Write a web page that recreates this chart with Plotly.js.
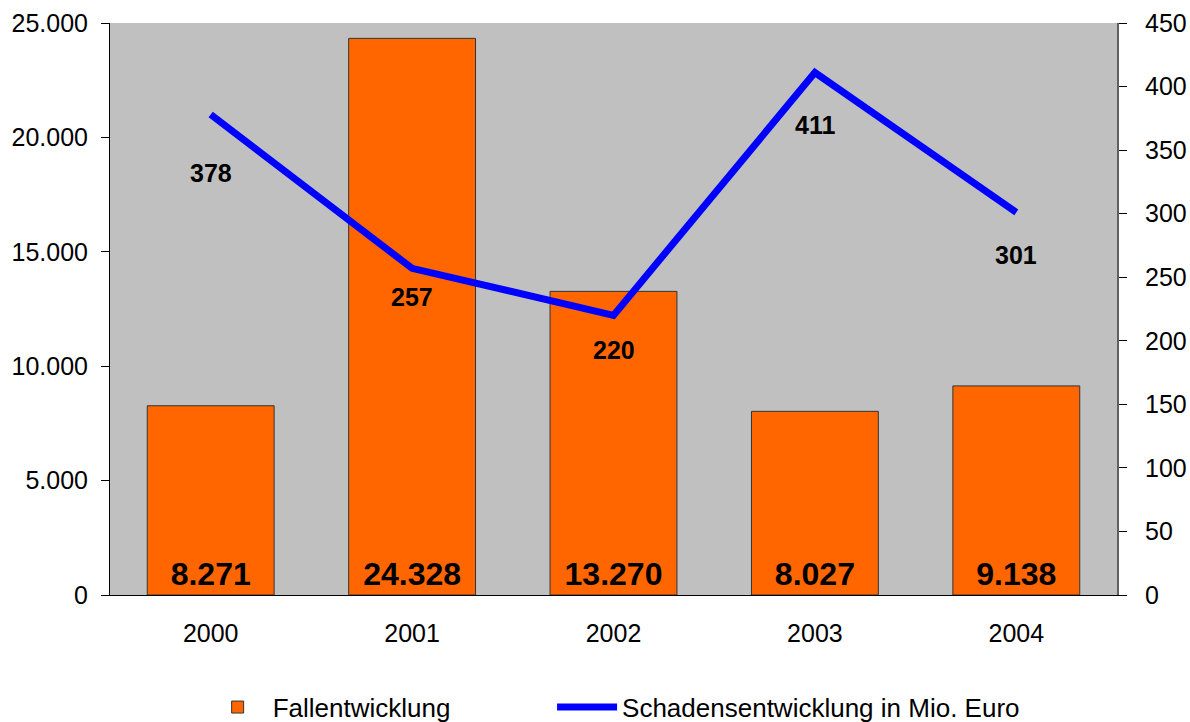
<!DOCTYPE html>
<html>
<head>
<meta charset="utf-8">
<script src="https://cdn.plot.ly/plotly-3.0.1.min.js"></script>
<style>html,body{margin:0;padding:0;background:#fff;}#chart{width:1190px;height:722px;}</style>
</head>
<body>
<div id="chart"></div>
<script>
const years = ['2000', '2001', '2002', '2003', '2004'];
const faelle = [8271, 24328, 13270, 8027, 9138];
const schaden = [378, 257, 220, 411, 301];
const leftTicks = [0, 5000, 10000, 15000, 20000, 25000];
const rightTicks = [0, 50, 100, 150, 200, 250, 300, 350, 400, 450];
const labelShift = [-58, -29, -35, -52, -43];

const font = 'Liberation Sans, Arial, sans-serif';

const bars = {
  type: 'bar', name: 'Fallentwicklung', x: years, y: faelle,
  marker: {color: '#ff6600', line: {color: '#333333', width: 1}},
  width: 0.63,
  texttemplate: '<b>%{y:,d}</b>', textposition: 'inside', insidetextanchor: 'start',
  textfont: {family: font, size: 32, color: '#000'}, textangle: 0,
  hoverinfo: 'skip', legend: 'legend'
};
const line = {
  type: 'scatter', mode: 'lines', name: 'Schadensentwicklung in Mio. Euro',
  x: years, y: schaden, yaxis: 'y2',
  line: {color: '#0000ff', width: 7}, hoverinfo: 'skip', legend: 'legend2'
};
const annotations = years.map((yr, i) => ({
  x: i, y: schaden[i], xref: 'x', yref: 'y2', yshift: labelShift[i],
  text: '<b>' + schaden[i] + '</b>', showarrow: false,
  font: {family: font, size: 25, color: '#000'}
}));

const legendBase = {orientation: 'h', xanchor: 'left', y: -0.155, yanchor: 'top',
  font: {family: font, size: 26, color: '#000'}, itemwidth: 60, bgcolor: 'rgba(0,0,0,0)'};

const layout = {
  width: 1190, height: 722,
  margin: {l: 110, r: 73, t: 23, b: 127, autoexpand: false},
  paper_bgcolor: '#ffffff', plot_bgcolor: '#c0c0c0',
  separators: ',.',
  font: {family: font, size: 25, color: '#000'},
  showlegend: true,
  legend: Object.assign({}, legendBase, {x: 0.092}),
  legend2: Object.assign({}, legendBase, {x: 0.439}),
  xaxis: {type: 'category', range: [-0.5, 4.5], showline: true, linecolor: '#000', linewidth: 1,
          ticks: '', showgrid: false, zeroline: false, ticklabelstandoff: 16,
          tickfont: {family: font, size: 25}},
  yaxis: {range: [0, 25000], tickvals: leftTicks, tickformat: ',d', showgrid: false,
          zeroline: false, showline: true, linecolor: '#000', linewidth: 1,
          ticks: 'outside', ticklen: 8, tickcolor: '#000', ticklabelstandoff: 8,
          tickfont: {family: font, size: 25}},
  yaxis2: {range: [0, 450], tickvals: rightTicks, overlaying: 'y', side: 'right',
           showgrid: false, zeroline: false, showline: true, linecolor: '#606060', linewidth: 2,
           ticks: 'outside', ticklen: 8, tickcolor: '#000', ticklabelstandoff: 13,
           tickfont: {family: font, size: 25}},
  annotations: annotations
};

Plotly.newPlot('chart', [bars, line], layout, {displayModeBar: false, staticPlot: true});
</script>
</body>
</html>
